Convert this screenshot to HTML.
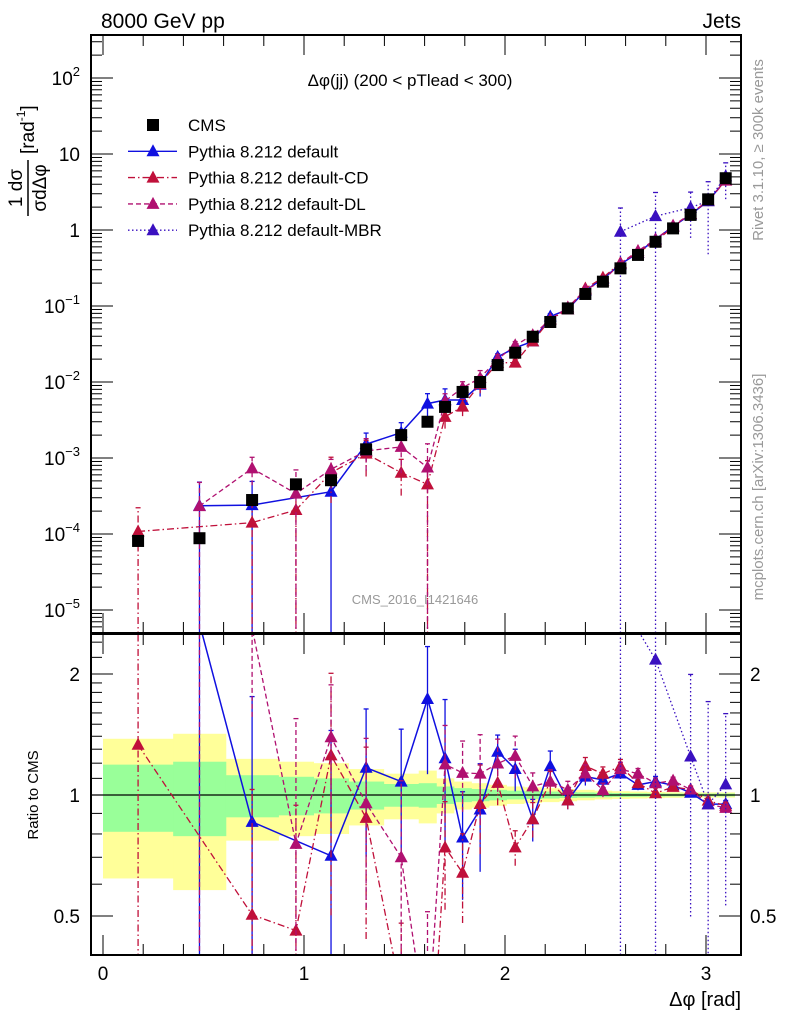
<!DOCTYPE html>
<html><head><meta charset="utf-8"><style>
html,body{margin:0;padding:0;background:#fff;width:786px;height:1024px;overflow:hidden;}
svg{display:block;font-family:"Liberation Sans",sans-serif;}
</style></head><body>
<svg id="chart" width="786" height="1024" viewBox="0 0 786 1024" xmlns="http://www.w3.org/2000/svg" style="overflow:hidden">
<defs>
<clipPath id="clipTop"><rect x="91" y="35" width="650" height="598"/></clipPath>
<clipPath id="clipRat"><rect x="91" y="634" width="650" height="321"/></clipPath>
</defs>
<g id="bands" clip-path="url(#clipRat)"></g>
<g id="marksTop" clip-path="url(#clipTop)"></g>
<g id="marksRat" clip-path="url(#clipRat)"></g>
<g id="axes"></g>
<text x="101" y="28" font-size="21">8000 GeV pp</text>
<text x="741" y="28" font-size="21" text-anchor="end">Jets</text>
<text x="410" y="86" font-size="17" text-anchor="middle">Δφ(jj) (200 &lt; pTlead &lt;  300)</text>
<text x="415" y="604" font-size="13" fill="#999" text-anchor="middle">CMS_2016_I1421646</text>
<text transform="translate(763,150) rotate(-90)" font-size="15" fill="#999" text-anchor="middle">Rivet 3.1.10, ≥ 300k events</text>
<text transform="translate(763,487) rotate(-90)" font-size="15" fill="#999" text-anchor="middle">mcplots.cern.ch [arXiv:1306.3436]</text>
<g id="ytitle"></g>
<text transform="translate(38,795) rotate(-90)" font-size="15" text-anchor="middle">Ratio to CMS</text>
<text x="741" y="1006" font-size="20" text-anchor="end">Δφ [rad]</text>
<g id="legend"></g>
</svg>
<script>
// ---- data ----
const binEdges = [0,4,7,10,12,14,16,18,19,20,21,22,23,24,25,26,27,28,29,30,31,32,33,34,35,36]; // units of pi/36
const cmsValues = [8.1e-5,8.8e-5,2.8e-4,4.5e-4,5.1e-4,1.3e-3,2.0e-3,3.0e-3,4.7e-3,7.4e-3,0.010,0.0167,0.0243,0.0394,0.0616,0.093,0.144,0.209,0.313,0.47,0.70,1.05,1.58,2.53,4.8];
const bandYellow = [0.38,0.42,0.23,0.21,0.2,0.16,0.13,0.15,0.1,0.08,0.07,0.06,0.05,0.045,0.04,0.035,0.03,0.025,0.022,0.02,0.018,0.016,0.015,0.015,0.015];
const bandGreen = [0.19,0.21,0.12,0.11,0.1,0.08,0.065,0.07,0.05,0.04,0.035,0.03,0.025,0.022,0.02,0.017,0.015,0.013,0.011,0.01,0.009,0.008,0.008,0.008,0.008];
const defaultValues = [null,2.35e-4,2.4e-4,null,3.6e-4,1.52e-3,2.16e-3,5.2e-3,5.8e-3,5.8e-3,9.2e-3,0.0214,0.0282,0.0343,0.0727,0.0902,0.160,0.228,0.354,0.498,0.756,1.11,1.60,2.40,4.56];
const defaultErr = [0,1.05,1.05,0,1.05,0.4,0.35,0.35,0.4,0.3,0.3,0.1,0.12,0.12,0.09,0.05,0.05,0.04,0.03,0.03,0.03,0.02,0.02,0.02,0.02];
const cdValues = [1.08e-4,null,1.41e-4,2.07e-4,6.4e-4,1.14e-3,6.4e-4,4.5e-4,3.48e-3,4.74e-3,9.5e-3,0.0179,0.0180,0.0343,0.0665,0.0902,0.170,0.236,0.369,0.503,0.707,1.10,1.63,2.45,4.51];
const cdErr = [1.05,0,1.05,1.05,0.6,0.5,0.5,1.05,0.3,0.25,0.25,0.12,0.1,0.1,0.06,0.05,0.05,0.04,0.04,0.03,0.03,0.02,0.02,0.02,0.02];
const dlValues = [null,2.33e-4,7.3e-4,3.4e-4,7.1e-4,1.24e-3,1.40e-3,7.5e-4,5.6e-3,8.4e-3,0.0113,0.020,0.0304,0.0414,0.0665,0.0958,0.163,0.215,0.363,0.531,0.749,1.14,1.63,2.40,4.46];
const dlErr = [0,1.05,0.4,1.05,0.35,0.45,0.55,1.05,0.25,0.2,0.25,0.15,0.12,0.08,0.07,0.05,0.05,0.04,0.04,0.03,0.03,0.02,0.02,0.02,0.02];
const mbrValues = [null,null,null,null,null,null,null,null,null,null,null,null,null,null,null,null,null,null,0.95,null,1.52,null,1.97,2.4,5.1];
const mbrErr = [0,0,0,0,0,0,0,0,0,0,0,0,0,0,0,0,0,0,1.05,0,1.05,0,0.6,0.8,0.5];
const xTicks = [0,1,2,3];
const yTopTicks = [-5,-4,-3,-2,-1,0,1,2];
const ratioTicks = [0.5,1,2];

// ---- axes ----
const NS="http://www.w3.org/2000/svg";
const X0=91,X1=741,T0=35,T1=633,R0=634,R1=955;
const sx = p => 103 + 201*p;
const sy = v => 230 - 76*Math.log10(v);
const sr = r => 795 - 402*Math.log10(r);
function el(tag, attrs, parent){const e=document.createElementNS(NS,tag);for(const k in attrs)e.setAttribute(k,attrs[k]);parent.appendChild(e);return e;}
const axesG=document.getElementById('axes');
const bandsG=document.getElementById('bands');
const topG=document.getElementById('marksTop');
const ratG=document.getElementById('marksRat');
const edgePhi = binEdges.map(e=>e*Math.PI/36);
const centers = cmsValues.map((_,i)=>(edgePhi[i]+edgePhi[i+1])/2);

// bands
[[bandYellow,'#ffff99','yellow-band'],[bandGreen,'#99ff99','green-band']].forEach(([arr,col,name])=>{
  arr.forEach((e,i)=>{
    const r=el('rect',{x:sx(edgePhi[i]),width:sx(edgePhi[i+1])-sx(edgePhi[i])+0.5,y:sr(1+e),height:sr(1-e)-sr(1+e),fill:col},bandsG);
    
    
  });
});
const one=el('line',{x1:X0,x2:X1,y1:sr(1),y2:sr(1),stroke:'#000','stroke-width':1.3},bandsG);



// frames
[[T0,T1,'top-frame'],[R0,R1,'ratio-frame']].forEach(([a,b,n])=>{
  const f=el('rect',{x:X0,y:a,width:X1-X0,height:b-a,fill:'none',stroke:'#000','stroke-width':2},axesG);
  
  
});
// x ticks
for(let k=0;k<=16;k++){
  const p=k*0.2; const x=sx(p); if(x>X1) break;
  const maj = Math.abs(p-Math.round(p))<1e-6;
  const L = maj?20:11;
  [[T1,-1],[T0,1],[R1,-1],[R0,1]].forEach(([y,d])=>el('line',{x1:x,x2:x,y1:y,y2:y+d*L,stroke:'#000','stroke-width':1},axesG));
}
xTicks.forEach(t=>{
  const tx=el('text',{x:sx(t),y:980,'font-size':19,'text-anchor':'middle'},axesG);
  tx.textContent=t;
  
  
});
// top y ticks
for(let d=-6;d<=2;d++){
  for(let m=1;m<=9;m++){
    const v=m*Math.pow(10,d); const y=sy(v); if(y<T0||y>T1) continue;
    const L=m===1?22:11;
    el('line',{x1:X0,x2:X0+L,y1:y,y2:y,stroke:'#000','stroke-width':1},axesG);
    el('line',{x1:X1,x2:X1-L,y1:y,y2:y,stroke:'#000','stroke-width':1},axesG);
  }
}
yTopTicks.forEach(d=>{
  const y=sy(Math.pow(10,d));
  const tx=el('text',{x:80,y:y+7,'font-size':19,'text-anchor':'end'},axesG);
  
  
  if(d===0) tx.textContent='1';
  else if(d===1) tx.textContent='10';
  else { tx.textContent='10'; const s=document.createElementNS(NS,'tspan'); s.setAttribute('dy',-9); s.setAttribute('font-size',13); s.textContent=(d<0?'−':'')+Math.abs(d); tx.appendChild(s); }
});
// ratio ticks
[0.4,0.5,0.6,0.7,0.8,0.9,1.0,1.1,1.2,1.3,1.4,1.5,1.6,1.7,1.8,1.9,2.0,2.2,2.4].forEach(r=>{
  const y=sr(r); if(y<R0||y>R1) return;
  const maj=ratioTicks.some(t=>Math.abs(t-r)<1e-6); const L=maj?22:11;
  el('line',{x1:X0,x2:X0+L,y1:y,y2:y,stroke:'#000','stroke-width':1},axesG);
  el('line',{x1:X1,x2:X1-L,y1:y,y2:y,stroke:'#000','stroke-width':1},axesG);
});
ratioTicks.forEach(r=>{
  const y=sr(r);
  const a=el('text',{x:80,y:y+7,'font-size':19,'text-anchor':'end'},axesG); a.textContent=r;
  
  
  const b=el('text',{x:750,y:y+7,'font-size':19,'text-anchor':'start',fill:'#000'},axesG); b.textContent=r;
  
  
});

// y title: fraction "1 dσ / σ dΔφ [rad^-1]"
const yt=document.getElementById('ytitle');
const g=el('g',{transform:'translate(30,150) rotate(-90)'},yt);
const t1=el('text',{x:-38,y:-8,'font-size':19,'text-anchor':'middle'},g); t1.textContent='1 dσ';
const t1b=el('text',{x:-38,y:16,'font-size':19,'text-anchor':'middle'},g); t1b.textContent='σdΔφ';
el('line',{x1:-66,x2:-10,y1:-2,y2:-2,stroke:'#000','stroke-width':1.5},g);
const t3=el('text',{x:-4,y:4,'font-size':19},g); t3.textContent='[rad';
const t3s=document.createElementNS(NS,'tspan'); t3s.setAttribute('dy',-9); t3s.setAttribute('font-size',12); t3s.textContent='-1'; t3.appendChild(t3s);
const t3e=document.createElementNS(NS,'tspan'); t3e.setAttribute('dy',9); t3e.textContent=']'; t3.appendChild(t3e);

// series
function tri(parent,x,y,col,name){
  const p=el('polygon',{points:`${x},${y-7} ${x-6.5},${y+5} ${x+6.5},${y+5}`,fill:col},parent);
  
  
}
const series=[
  {name:'default',vals:defaultValues,err:defaultErr,col:'#1010e0',dash:'',w:1.5},
  {name:'default-cd',vals:cdValues,err:cdErr,col:'#c0103a',dash:'7,3,1.5,3',w:1.3},
  {name:'default-dl',vals:dlValues,err:dlErr,col:'#b01070',dash:'5,3',w:1.3},
  {name:'default-mbr',vals:mbrValues,err:mbrErr,col:'#3a10c0',dash:'1.5,2.5',w:1.3}
];
series.forEach(s=>{
  const ptsT=[],ptsR=[];
  s.vals.forEach((v,i)=>{
    if(v==null) return;
    const x=sx(centers[i]); const r=v/cmsValues[i]; const e=s.err[i];
    ptsT.push([x,sy(v)]); ptsR.push([x,sr(r)]);
    const loT=v*(1-e)>0?sy(v*(1-e)):T1+20, hiT=sy(v*(1+e));
    const loR=r*(1-e)>0?sr(r*(1-e)):R1+20, hiR=sr(r*(1+e));
    [[topG,loT,hiT],[ratG,loR,hiR]].forEach(([par,lo,hi])=>{
      const l=el('line',{x1:x,x2:x,y1:lo,y2:hi,stroke:s.col,'stroke-width':1.3,'stroke-dasharray':s.dash},par);
      
      
      el('line',{x1:x-2.5,x2:x+2.5,y1:hi,y2:hi,stroke:s.col,'stroke-width':1.3},par);
    });
  });
  [[topG,ptsT],[ratG,ptsR]].forEach(([par,pts])=>{
    const pl=el('polyline',{points:pts.map(p=>p.join(',')).join(' '),fill:'none',stroke:s.col,'stroke-width':s.w,'stroke-dasharray':s.dash},par);
    
    
    pts.forEach(p=>tri(par,p[0],p[1],s.col,s.name+'-marker'));
  });
});
// CMS squares (top)
cmsValues.forEach((v,i)=>{
  const x=sx(centers[i]), y=sy(v);
  const r=el('rect',{x:x-6,y:y-6,width:12,height:12,fill:'#000'},topG);
  
  
});
// legend
const lg=document.getElementById('legend');
const entries=[['CMS',null],['Pythia 8.212 default',series[0]],['Pythia 8.212 default-CD',series[1]],['Pythia 8.212 default-DL',series[2]],['Pythia 8.212 default-MBR',series[3]]];
entries.forEach((en,k)=>{
  const y=125+k*26.3;
  const gg=el('g',{},lg);
  
  
  if(!en[1]) el('rect',{x:147,y:y-6,width:12,height:12,fill:'#000'},gg);
  else { el('line',{x1:128,x2:177,y1:y,y2:y,stroke:en[1].col,'stroke-width':1.4,'stroke-dasharray':en[1].dash},gg); tri(gg,153,y,en[1].col,'legend-marker'); }
  const t=el('text',{x:188,y:y+6,'font-size':17},gg); t.textContent=en[0];
});
</script>
</body></html>
